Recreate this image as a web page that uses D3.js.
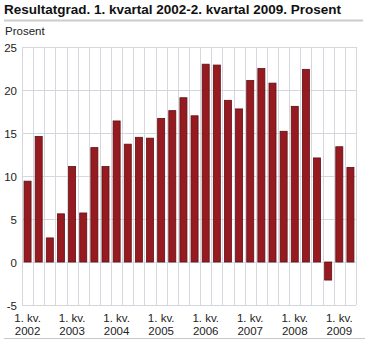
<!DOCTYPE html>
<html>
<head>
<meta charset="utf-8">
<script src="https://cdn.jsdelivr.net/npm/d3@7"></script>
<style>
  html, body { margin: 0; padding: 0; background: #fff; }
  svg { display: block; font-family: "Liberation Sans", Arial, sans-serif; }
</style>
</head>
<body>
<svg id="chart" width="365" height="341"></svg>
<script>
// Quarterly result margin, Q1 2002 - Q2 2009 (percent)
const quarters = [
  "2002K1","2002K2","2002K3","2002K4",
  "2003K1","2003K2","2003K3","2003K4",
  "2004K1","2004K2","2004K3","2004K4",
  "2005K1","2005K2","2005K3","2005K4",
  "2006K1","2006K2","2006K3","2006K4",
  "2007K1","2007K2","2007K3","2007K4",
  "2008K1","2008K2","2008K3","2008K4",
  "2009K1","2009K2"
];
const values = [
  9.4, 14.6, 2.8, 5.6,
  11.1, 5.7, 13.3, 11.1,
  16.4, 13.7, 14.5, 14.4,
  16.7, 17.6, 19.1, 17.0,
  23.0, 22.9, 18.8, 17.8,
  21.1, 22.5, 20.8, 15.2,
  18.1, 22.4, 12.1, -2.1,
  13.4, 11.0
];
const yTicks = [-5, 0, 5, 10, 15, 20, 25];
const yearLabels = ["2002","2003","2004","2005","2006","2007","2008","2009"];

const svg = d3.select("#chart");
const plotLeft = 22, plotRight = 356, plotTop = 47, plotBottom = 305;

const x = d3.scaleBand().domain(quarters).range([plotLeft, plotRight]).paddingInner(0.28).paddingOuter(0.14);
const xg = d3.scaleBand().domain(quarters).range([plotLeft, plotRight]);
const y = d3.scaleLinear().domain([-5, 25]).range([plotBottom, plotTop]);

// Title
svg.append("text")
  .attr("x", 4).attr("y", 13.5)
  .attr("font-size", 13.5).attr("font-weight", "bold").attr("fill", "#111")
  .text("Resultatgrad. 1. kvartal 2002-2. kvartal 2009. Prosent");

svg.append("line")
  .attr("x1", 4).attr("x2", 363).attr("y1", 20.5).attr("y2", 20.5)
  .attr("stroke", "#cccccc").attr("stroke-width", 2);

svg.append("text")
  .attr("x", 5).attr("y", 34.5)
  .attr("font-size", 11.5).attr("fill", "#222")
  .text("Prosent");

// Grid
const grid = svg.append("g");
grid.selectAll("line.h").data(yTicks).join("line")
  .attr("x1", plotLeft).attr("x2", plotRight)
  .attr("y1", d => Math.round(y(d)) + 0.5).attr("y2", d => Math.round(y(d)) + 0.5)
  .attr("stroke", "#d6d6de").attr("stroke-width", 1);
const vx = quarters.map(q => xg(q)).concat([plotRight]);
grid.selectAll("line.v").data(vx).join("line")
  .attr("x1", d => Math.round(d) + 0.5).attr("x2", d => Math.round(d) + 0.5)
  .attr("y1", plotTop).attr("y2", plotBottom)
  .attr("stroke", "#d6d6de").attr("stroke-width", 1);

// Y axis labels
svg.append("g").selectAll("text").data(yTicks).join("text")
  .attr("x", 17).attr("y", d => y(d) + 5)
  .attr("text-anchor", "end").attr("font-size", 11.5).attr("fill", "#222")
  .text(d => d);

// Bars
svg.append("g").selectAll("rect").data(values).join("rect")
  .attr("x", (d, i) => x(quarters[i]) + 0.5)
  .attr("width", x.bandwidth() - 1)
  .attr("y", d => y(Math.max(0, d)))
  .attr("height", d => Math.abs(y(d) - y(0)))
  .attr("fill", "#961b20")
  .attr("stroke", "#5e1014").attr("stroke-width", 0.8);

// X axis labels: first quarter of each year
const xl = svg.append("g");
yearLabels.forEach(yr => {
  const cx = xg(yr + "K1") + xg.bandwidth() / 2;
  xl.append("text").attr("x", cx).attr("y", 322)
    .attr("text-anchor", "middle").attr("font-size", 11.5).attr("fill", "#222")
    .text("1. kv.");
  xl.append("text").attr("x", cx).attr("y", 334.5)
    .attr("text-anchor", "middle").attr("font-size", 11.5).attr("fill", "#222")
    .text(yr);
});

svg.append("line")
  .attr("x1", 4).attr("x2", 365).attr("y1", 338.5).attr("y2", 338.5)
  .attr("stroke", "#c8c8c8").attr("stroke-width", 1);
</script>
</body>
</html>
